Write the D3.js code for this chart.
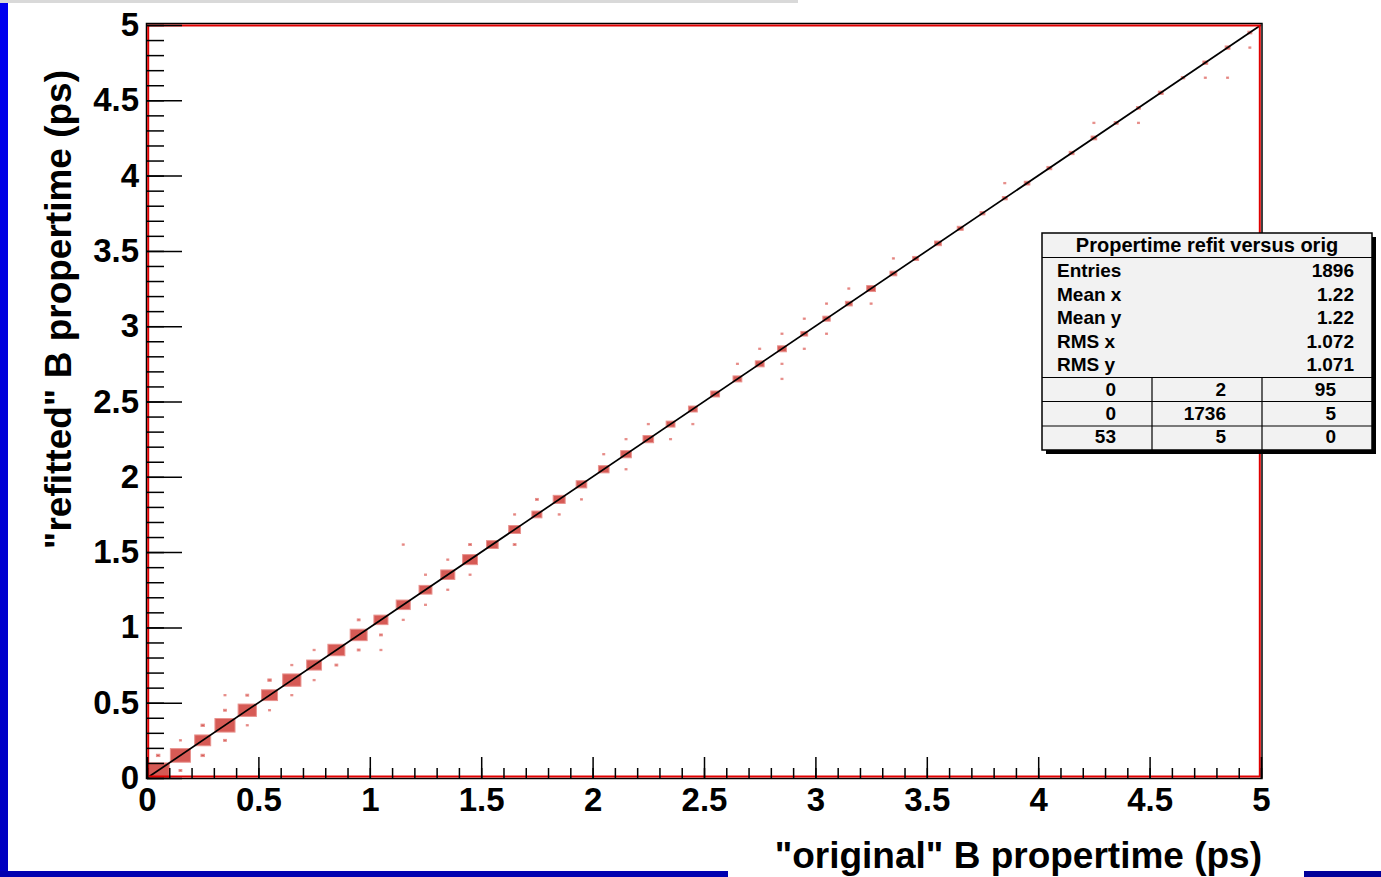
<!DOCTYPE html>
<html>
<head>
<meta charset="utf-8">
<script src="https://cdn.jsdelivr.net/npm/d3@7"></script>
<style>
  body { margin: 0; background: #fff; overflow: hidden; }
  text { font-family: "Liberation Sans", Arial, Helvetica, sans-serif; font-weight: bold; fill: #000; }
</style>
</head>
<body>
<svg id="chart" width="1381" height="877"></svg>
<script>
// Contents of the diagonal bins (0.1 ps bins, bin i at x = y = i*0.1)
const diagCounts = [128, 104, 66, 104, 86, 66, 86, 57, 74, 74,
                    51, 51, 43, 51, 57, 35, 36, 26, 37, 29,
                    29, 29, 29, 20, 20, 20, 20, 20, 20, 12,
                    14, 12, 20, 12, 9, 12, 9, 6, 6, 8,
                    6, 6, 8, 4, 4, 6, 3, 6, 6, 4];

// Off-diagonal bins: [x bin, y bin, content]
const offDiag = [
  [0, 1, 3], [1, 0, 2], [1, 2, 1], [2, 1, 3], [2, 3, 3], [3, 2, 2], [3, 5, 1], [3, 4, 2],
  [4, 3, 1], [4, 5, 2], [5, 4, 1], [5, 6, 3], [6, 5, 1], [6, 7, 1], [7, 6, 1], [7, 8, 1],
  [8, 7, 2], [9, 8, 2], [9, 10, 2], [10, 9, 2], [10, 8, 1], [11, 10, 1], [11, 15, 1],
  [12, 11, 1], [12, 13, 1], [13, 12, 1], [13, 14, 1], [14, 13, 1], [14, 15, 2],
  [16, 15, 2], [16, 17, 1], [17, 18, 2], [18, 17, 1], [19, 18, 1], [20, 21, 1],
  [21, 22, 1], [21, 20, 1], [22, 23, 1], [23, 22, 1], [24, 23, 1], [26, 27, 1],
  [27, 28, 1], [28, 29, 1], [28, 27, 1], [28, 26, 1], [29, 30, 1], [29, 28, 1],
  [30, 31, 1], [30, 29, 1], [31, 32, 1], [32, 31, 1], [33, 34, 1], [38, 39, 1],
  [42, 43, 1], [44, 43, 1], [47, 46, 1], [48, 46, 1], [49, 48, 1]
];

const binWidth = 0.1;
const majorTicks = [0, 0.5, 1, 1.5, 2, 2.5, 3, 3.5, 4, 4.5, 5];
const tickLabels = ["0", "0.5", "1", "1.5", "2", "2.5", "3", "3.5", "4", "4.5", "5"];

const statsTitle = "Propertime refit versus orig";
const statNames = ["Entries", "Mean x", "Mean y", "RMS x", "RMS y"];
const statValues = ["1896", "1.22", "1.22", "1.072", "1.071"];
const overflowTable = [["0", "2", "95"], ["0", "1736", "5"], ["53", "5", "0"]];

const xTitle = "\"original\" B propertime (ps)";
const yTitle = "\"refitted\" B propertime (ps)";

const svg = d3.select("#chart");

// slide decoration: gray strip on top, blue border
const grad = svg.append("defs").append("linearGradient")
  .attr("id", "blue").attr("x1", 0).attr("y1", 0).attr("x2", 0).attr("y2", 1);
grad.append("stop").attr("offset", "0%").attr("stop-color", "#0000f0");
grad.append("stop").attr("offset", "100%").attr("stop-color", "#0000c0");

svg.append("rect").attr("x", 0).attr("y", 0).attr("width", 798).attr("height", 3).attr("fill", "#d9d9d9");
svg.append("rect").attr("x", 0).attr("y", 3).attr("width", 8).attr("height", 874).attr("fill", "url(#blue)");
svg.append("rect").attr("x", 0).attr("y", 871).attr("width", 728).attr("height", 6).attr("fill", "#0000b0");
svg.append("rect").attr("x", 1304).attr("y", 871).attr("width", 77).attr("height", 6).attr("fill", "#00009a");

// scales
const x = d3.scaleLinear().domain([0, 5]).range([147, 1261]);
const y = d3.scaleLinear().domain([0, 5]).range([778, 25]);

const cmax = d3.max(diagCounts);
const cells = diagCounts.map((c, i) => ({ ix: i, iy: i, c: c }))
  .concat(offDiag.map(d => ({ ix: d[0], iy: d[1], c: d[2] })));

const bw = x(binWidth) - x(0);
const bh = y(0) - y(binWidth);

// boxes, surface proportional to content
svg.append("g").selectAll("rect")
  .data(cells)
  .join("rect")
  .attr("x", d => x((d.ix + 0.5) * binWidth) - bw * Math.sqrt(d.c / cmax) / 2)
  .attr("y", d => y((d.iy + 0.5) * binWidth) - bh * Math.sqrt(d.c / cmax) / 2)
  .attr("width", d => bw * Math.sqrt(d.c / cmax))
  .attr("height", d => bh * Math.sqrt(d.c / cmax))
  .attr("fill", "#d65a55")
  .attr("stroke", "#e8928e")
  .attr("stroke-width", 1);

// diagonal line y = x
svg.append("line")
  .attr("x1", x(0)).attr("y1", y(0))
  .attr("x2", x(5)).attr("y2", y(5))
  .attr("stroke", "#000").attr("stroke-width", 1.7);

// frame: black outer line, red hist line inside
svg.append("rect")
  .attr("x", x(0) - 0.5).attr("y", y(5) - 1.5)
  .attr("width", x(5) - x(0) + 1.5).attr("height", y(0) - y(5) + 2)
  .attr("fill", "none").attr("stroke", "#000").attr("stroke-width", 1.5);
svg.append("rect")
  .attr("x", x(0) + 1.2).attr("y", y(5) + 0.5)
  .attr("width", x(5) - x(0) - 2.4).attr("height", y(0) - y(5) - 2)
  .attr("fill", "none").attr("stroke", "#e00000").attr("stroke-width", 2);

// axes, ticks pointing inside
const minorTicks = d3.range(0, 50.5).map(k => k * binWidth);
const fmt = v => tickLabels[majorTicks.indexOf(v)];

svg.append("g").attr("transform", `translate(0,${y(0)})`)
  .call(d3.axisBottom(x).tickValues(minorTicks).tickSize(-10).tickFormat(""))
  .call(g => g.select(".domain").remove());
svg.append("g").attr("transform", `translate(0,${y(0)})`)
  .call(d3.axisBottom(x).tickValues(majorTicks).tickSize(-21).tickPadding(10).tickFormat(fmt))
  .call(g => g.select(".domain").remove())
  .call(g => g.selectAll("text").style("font-size", "33px").attr("fill", "#000"));

svg.append("g").attr("transform", `translate(${x(0)},0)`)
  .call(d3.axisLeft(y).tickValues(minorTicks).tickSize(-17).tickFormat(""))
  .call(g => g.select(".domain").remove());
svg.append("g").attr("transform", `translate(${x(0)},0)`)
  .call(d3.axisLeft(y).tickValues(majorTicks).tickSize(-35).tickPadding(8).tickFormat(fmt))
  .call(g => g.select(".domain").remove())
  .call(g => g.selectAll("text").style("font-size", "33px").attr("fill", "#000"));

svg.selectAll(".tick line").attr("stroke", "#000").attr("stroke-width", 1.5);

// axis titles
svg.append("text")
  .attr("x", 1262).attr("y", 868)
  .attr("text-anchor", "end")
  .style("font-size", "37px")
  .text(xTitle);

svg.append("text")
  .attr("transform", "translate(71,70) rotate(-90)")
  .attr("text-anchor", "end")
  .style("font-size", "37px")
  .text(yTitle);

// stats box
const sb = { x: 1042, y: 233, w: 330, h: 217 };
const stats = svg.append("g");
stats.append("rect").attr("x", sb.x + 4).attr("y", sb.y + 4).attr("width", sb.w).attr("height", sb.h).attr("fill", "#000");
stats.append("rect").attr("x", sb.x).attr("y", sb.y).attr("width", sb.w).attr("height", sb.h)
  .attr("fill", "#f2f2f2").attr("stroke", "#000").attr("stroke-width", 1.5);
stats.append("line").attr("x1", sb.x).attr("x2", sb.x + sb.w).attr("y1", 257.5).attr("y2", 257.5)
  .attr("stroke", "#000").attr("stroke-width", 1.2);
stats.append("text").attr("x", sb.x + sb.w / 2).attr("y", 252).attr("text-anchor", "middle")
  .style("font-size", "20px").text(statsTitle);

statNames.forEach((n, i) => {
  const by = 277 + i * 23.5;
  stats.append("text").attr("x", 1057).attr("y", by).style("font-size", "19px").text(n);
  stats.append("text").attr("x", 1354).attr("y", by).attr("text-anchor", "end")
    .style("font-size", "19px").text(statValues[i]);
});

const rowLines = [377.5, 401.5, 426];
rowLines.forEach(ly => stats.append("line").attr("x1", sb.x).attr("x2", sb.x + sb.w)
  .attr("y1", ly).attr("y2", ly).attr("stroke", "#000").attr("stroke-width", 1.2));
const colRight = [1152, 1262, 1372];
colRight.slice(0, 2).forEach(cx => stats.append("line").attr("x1", cx).attr("x2", cx)
  .attr("y1", 377.5).attr("y2", sb.y + sb.h).attr("stroke", "#000").attr("stroke-width", 1.2));
overflowTable.forEach((row, r) => {
  row.forEach((v, c) => {
    stats.append("text").attr("x", colRight[c] - 36).attr("y", 396 + r * 23.5)
      .attr("text-anchor", "end").style("font-size", "19px").text(v);
  });
});
</script>
</body>
</html>
